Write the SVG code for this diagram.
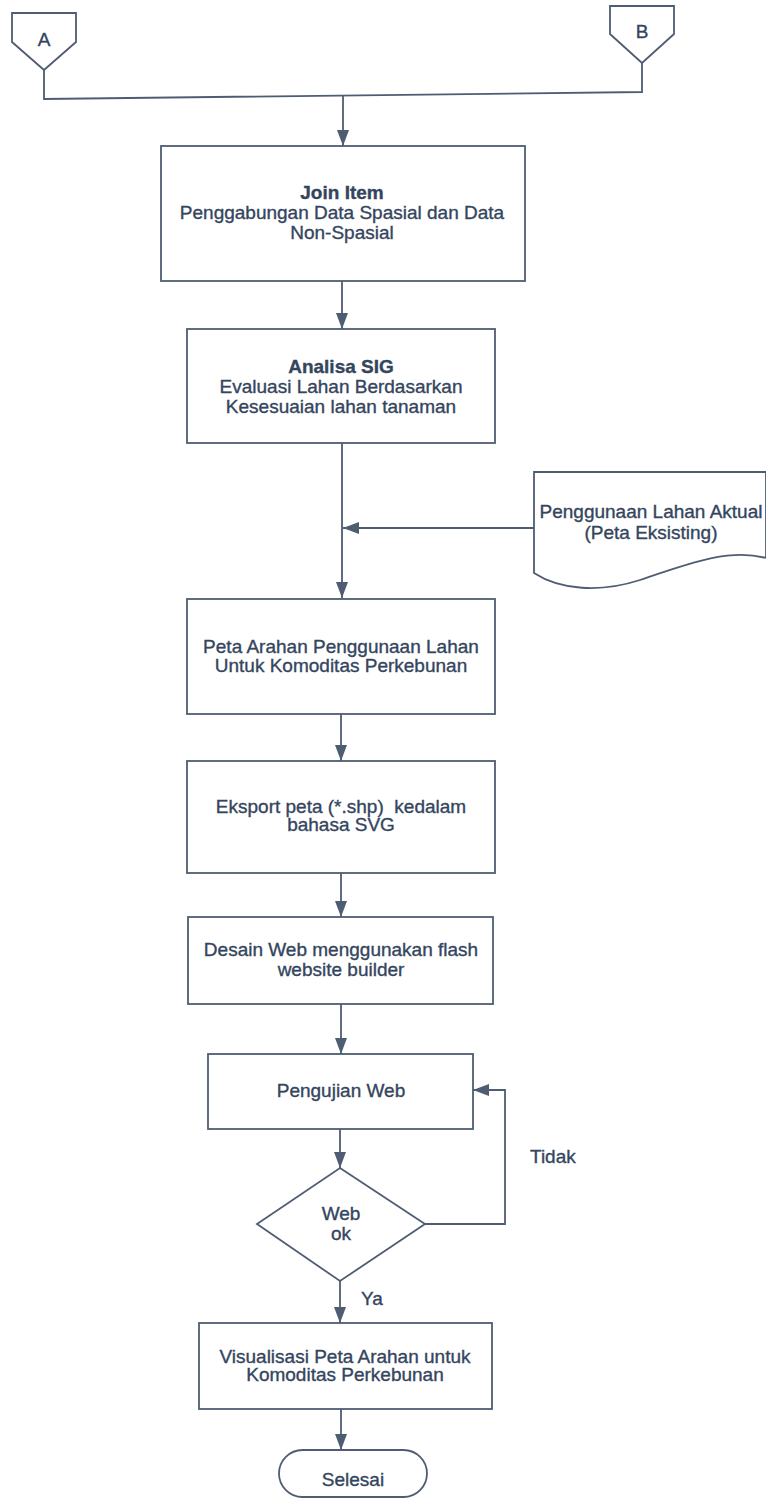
<svg xmlns="http://www.w3.org/2000/svg" width="766" height="1503" viewBox="0 0 766 1503">
<style>
.s{fill:none;stroke:#4f5d73;stroke-width:1.8}
.n{fill:#ffffff;stroke:#4f5d73;stroke-width:1.8}
.t{font-family:"Liberation Sans",Arial,sans-serif;font-size:19px;fill:#34455e;stroke:#34455e;stroke-width:0.35;text-anchor:middle}
.b{font-weight:bold}
.l{text-anchor:start}
</style>
<defs>
<marker id="ah" viewBox="0 0 16 12" refX="16" refY="6" markerWidth="16" markerHeight="12" markerUnits="userSpaceOnUse" orient="auto">
<path d="M0,0 L16,6 L0,12 Z" fill="#4f5d73"/>
</marker>
</defs>
<rect width="766" height="1503" fill="#ffffff"/>
<g id="connectors">
<path class="s" d="M44,70 V99 L642,92 V63"/>
<path class="s" d="M343,96 V146" marker-end="url(#ah)"/>
<path class="s" d="M342,281 V329" marker-end="url(#ah)"/>
<path class="s" d="M342,443 V598" marker-end="url(#ah)"/>
<path class="s" d="M534,528 H343" marker-end="url(#ah)"/>
<path class="s" d="M341,714 V761" marker-end="url(#ah)"/>
<path class="s" d="M341,873 V917" marker-end="url(#ah)"/>
<path class="s" d="M341,1004 V1054" marker-end="url(#ah)"/>
<path class="s" d="M340,1129 V1168" marker-end="url(#ah)"/>
<path class="s" d="M425,1224 H505 V1090 H473" marker-end="url(#ah)"/>
<path class="s" d="M340,1281 V1323" marker-end="url(#ah)"/>
<path class="s" d="M341,1409 V1450" marker-end="url(#ah)"/>
<text class="t l" x="530" y="1163">Tidak</text>
<text class="t l" x="361" y="1305">Ya</text>
</g>
<g id="conA">
<path class="n" d="M12,13 H76 V42 L44,70 L12,42 Z"/>
<text class="t" x="44" y="46" font-size="16">A</text>
</g>
<g id="conB">
<path class="n" d="M610,6 H674 V34 L642,63 L610,34 Z"/>
<text class="t" x="642" y="38" font-size="16">B</text>
</g>
<g id="joinItem">
<rect class="n" x="161" y="146" width="364" height="135"/>
<text class="t b" x="342" y="199">Join Item</text>
<text class="t" x="342" y="219">Penggabungan Data Spasial dan Data</text>
<text class="t" x="342" y="239">Non-Spasial</text>
</g>
<g id="analisaSIG">
<rect class="n" x="187" y="329" width="308" height="114"/>
<text class="t b" x="341" y="373">Analisa SIG</text>
<text class="t" x="341" y="393">Evaluasi Lahan Berdasarkan</text>
<text class="t" x="341" y="413">Kesesuaian lahan tanaman</text>
</g>
<g id="lahanAktual">
<path class="n" d="M766,558 V472 H534 V573 C560,590 600,593 640,580 C690,563 730,548 766,558"/>
<text class="t" x="651" y="518">Penggunaan Lahan Aktual</text>
<text class="t" x="651" y="539">(Peta Eksisting)</text>
</g>
<g id="petaArahan">
<rect class="n" x="187" y="599" width="308" height="115"/>
<text class="t" x="341" y="653">Peta Arahan Penggunaan Lahan</text>
<text class="t" x="341" y="672">Untuk Komoditas Perkebunan</text>
</g>
<g id="eksport">
<rect class="n" x="187" y="761" width="308" height="112"/>
<text class="t" x="341" y="813" xml:space="preserve">Eksport peta (*.shp)  kedalam</text>
<text class="t" x="341" y="831">bahasa SVG</text>
</g>
<g id="desainWeb">
<rect class="n" x="188" y="917" width="305" height="87"/>
<text class="t" x="341" y="956">Desain Web menggunakan flash</text>
<text class="t" x="341" y="976">website builder</text>
</g>
<g id="pengujianWeb">
<rect class="n" x="208" y="1054" width="265" height="75"/>
<text class="t" x="341" y="1097">Pengujian Web</text>
</g>
<g id="webOk">
<path class="n" d="M340,1168 L425,1224 L340,1281 L257,1224 Z"/>
<text class="t" x="341" y="1220">Web</text>
<text class="t" x="341" y="1240">ok</text>
</g>
<g id="visualisasi">
<rect class="n" x="199" y="1323" width="293" height="86"/>
<text class="t" x="345" y="1363">Visualisasi Peta Arahan untuk</text>
<text class="t" x="345" y="1381">Komoditas Perkebunan</text>
</g>
<g id="selesai">
<rect class="n" x="279" y="1450" width="148" height="47" rx="23.5" ry="23.5"/>
<text class="t" x="353" y="1486">Selesai</text>
</g>
</svg>
